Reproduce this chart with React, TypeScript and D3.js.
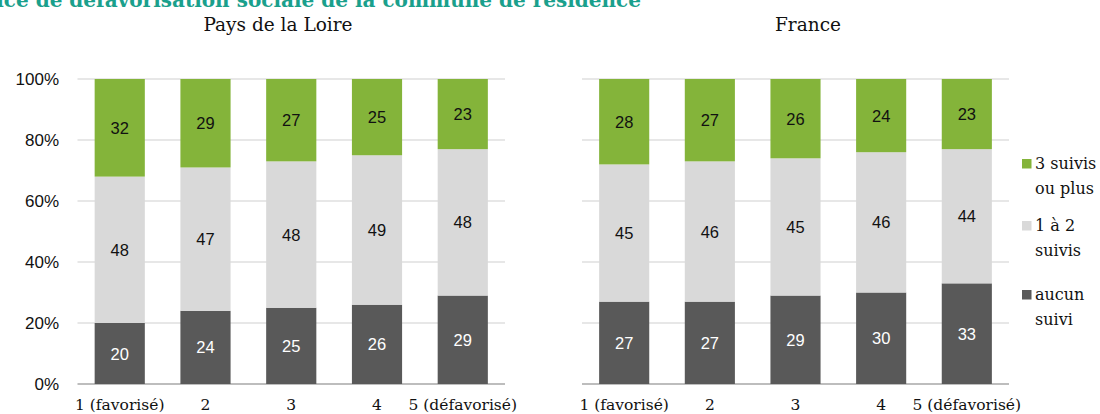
import React from "react";
import * as d3 from "d3";

const categories = ["1 (favorisé)", "2", "3", "4", "5 (défavorisé)"];
const seriesNames = ["aucun suivi", "1 à 2 suivis", "3 suivis ou plus"];
const loireAucun = [20, 24, 25, 26, 29];
const loireUnDeux = [48, 47, 48, 49, 48];
const loireTrois = [32, 29, 27, 25, 23];
const franceAucun = [27, 27, 29, 30, 33];
const franceUnDeux = [45, 46, 45, 46, 44];
const franceTrois = [28, 27, 26, 24, 23];
const yTicks = [0, 20, 40, 60, 80, 100];

const colors = ["#595959", "#d9d9d9", "#84b43a"];
const textColors = ["#ffffff", "#111111", "#111111"];
const serif = "'DejaVu Serif', serif";
const sans = "'Liberation Sans', Arial, sans-serif";

const W = 1100, H = 414;
const y = d3.scaleLinear().domain([0, 100]).range([384, 79]);

function Panel({ title, titleX, x0, x1, data, showAxis }: { title: string; titleX: number; x0: number; x1: number; data: number[][]; showAxis: boolean }) {
  const x = d3.scaleBand<string>().domain(categories).range([x0, x1]).paddingInner(0.415).paddingOuter(0.2);
  const rows = categories.map((c, i) => {
    const o: any = { cat: c };
    seriesNames.forEach((s, k) => (o[s] = data[k][i]));
    return o;
  });
  const stacked = d3.stack<any>().keys(seriesNames)(rows);
  return (
    <g>
      <text x={titleX} y={31} textAnchor="middle" fontFamily={serif} fontSize={18.5} fill="#111">{title}</text>
      {yTicks.map((t) => (
        <g key={t}>
          <line x1={x0} x2={x1} y1={y(t)} y2={y(t)} stroke={t === 0 ? "#bdbdbd" : "#cfcfcf"} strokeWidth={t === 0 ? 2 : 1.2} />
          {showAxis && (
            <text x={59} y={y(t) + 6} textAnchor="end" fontFamily={sans} fontSize={17} fill="#111">{t}%</text>
          )}
        </g>
      ))}
      {stacked.map((layer, k) => (
        <g key={layer.key}>
          {layer.map((d, i) => {
            const bx = x(categories[i])!;
            const top = y(d[1]);
            const bot = y(d[0]);
            return (
              <g key={i}>
                <rect x={bx} y={top} width={x.bandwidth()} height={bot - top} fill={colors[k]} />
                <text x={bx + x.bandwidth() / 2} y={(top + bot) / 2 + 6} textAnchor="middle" fontFamily={sans} fontSize={16.5} fill={textColors[k]}>
                  {data[k][i]}
                </text>
              </g>
            );
          })}
        </g>
      ))}
      {categories.map((c) => (
        <text key={c} x={x(c)! + x.bandwidth() / 2} y={410} textAnchor="middle" fontFamily={serif} fontSize={15.5} fill="#111">{c}</text>
      ))}
    </g>
  );
}

export default function App() {
  const legend = [
    { k: 2, lines: ["3 suivis", "ou plus"], y: 169 },
    { k: 1, lines: ["1 à 2", "suivis"], y: 231 },
    { k: 0, lines: ["aucun", "suivi"], y: 300 },
  ];
  return (
    <svg width={W} height={H} style={{ position: "absolute", left: 0, top: 0, background: "#fff" }}>
      <text x={641} y={7} textAnchor="end" fontFamily={serif} fontWeight="bold" fontSize={20} fill="#1aa08c">
        Indice de défavorisation sociale de la commune de résidence
      </text>
      <Panel title="Pays de la Loire" titleX={278} x0={77.5} x1={505} data={[loireAucun, loireUnDeux, loireTrois]} showAxis={true} />
      <Panel title="France" titleX={808} x0={582} x1={1009} data={[franceAucun, franceUnDeux, franceTrois]} showAxis={false} />
      {legend.map((l) => (
        <g key={l.k}>
          <rect x={1022} y={l.y - 10} width={9.5} height={9.5} fill={colors[l.k]} />
          <text x={1035} y={l.y} fontFamily={serif} fontSize={16} fill="#111">{l.lines[0]}</text>
          <text x={1035} y={l.y + 24.5} fontFamily={serif} fontSize={16} fill="#111">{l.lines[1]}</text>
        </g>
      ))}
    </svg>
  );
}
